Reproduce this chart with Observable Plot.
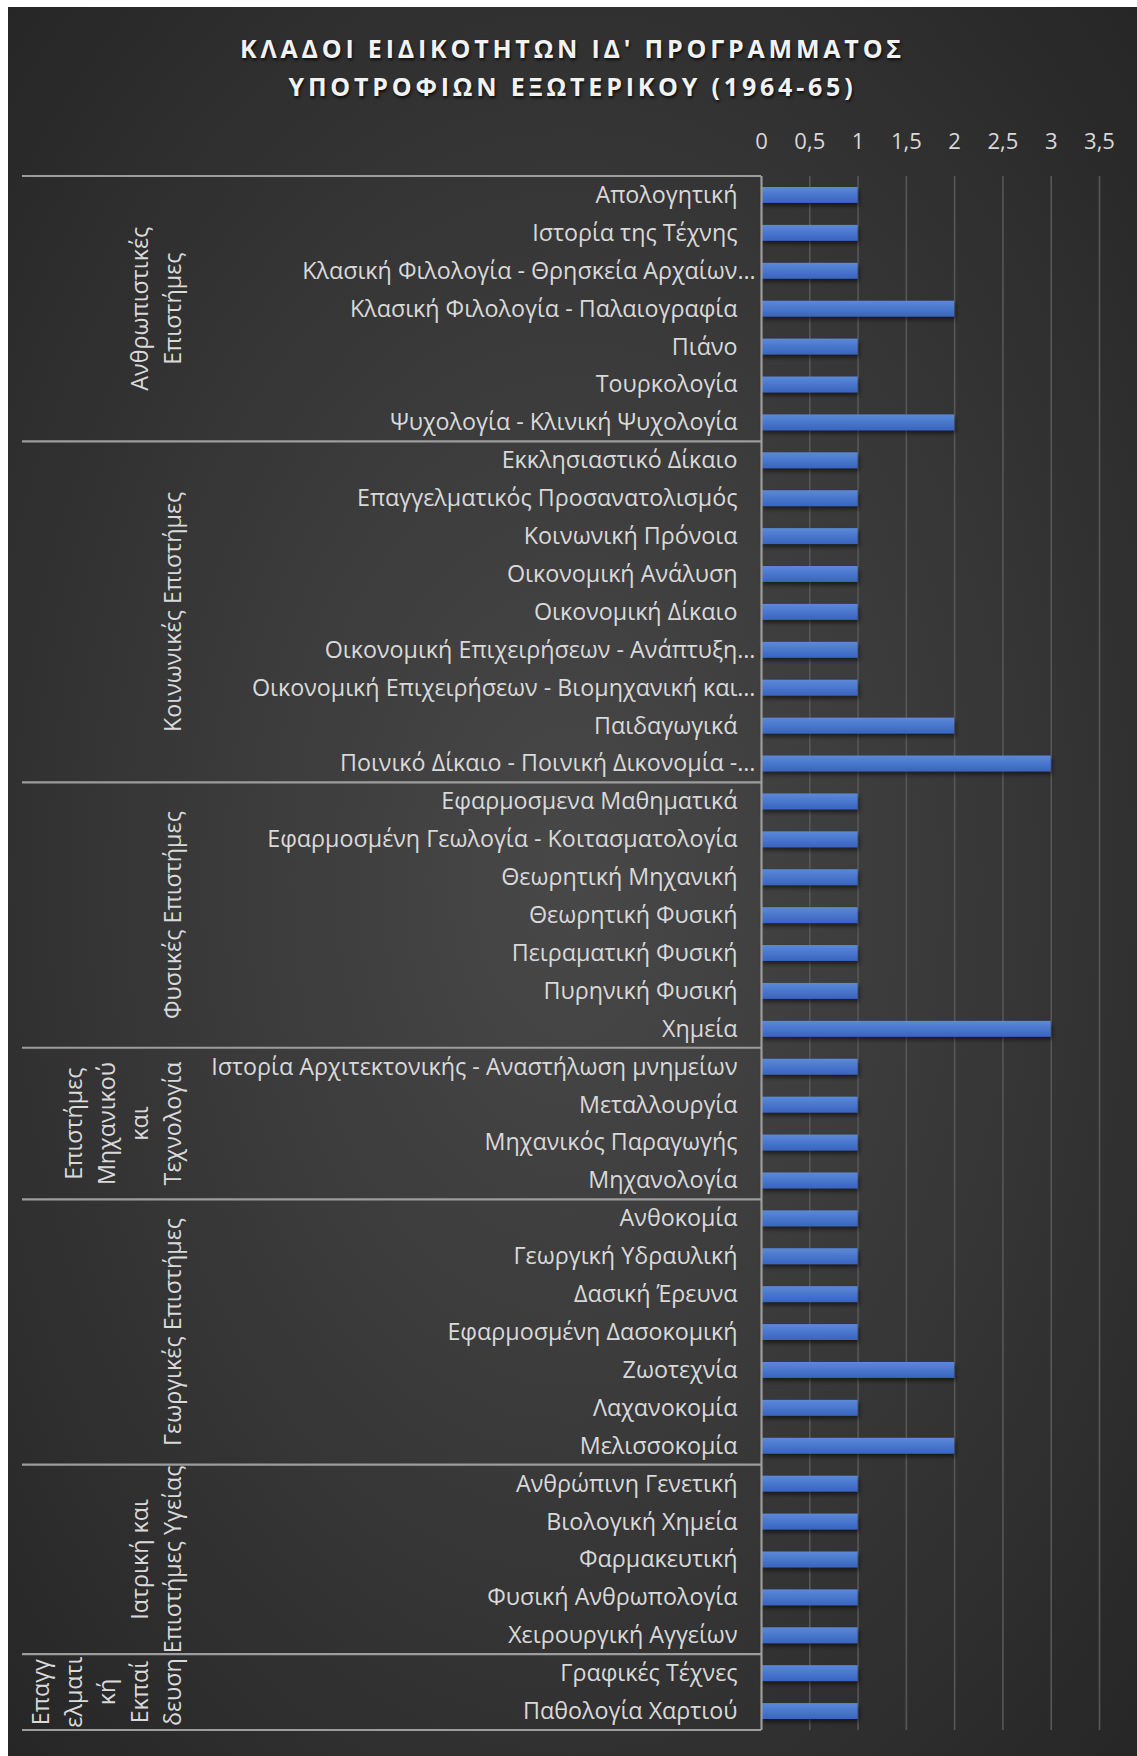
<!DOCTYPE html>
<html>
<head>
<meta charset="utf-8">
<script src="https://cdn.jsdelivr.net/npm/d3@7"></script>
<script src="https://cdn.jsdelivr.net/npm/@observablehq/plot@0.6"></script>
<style>
  html, body { margin: 0; padding: 0; background: #ffffff; }
  #card {
    position: absolute; left: 8px; top: 7px; width: 1129px; height: 1749px;
    background: radial-gradient(ellipse at 50% 50%, #484848 0%, #3a3a3a 45%, #262626 100%);
    font-family: "Open Sans", sans-serif; overflow: hidden;
  }
  #title {
    height: 103px; box-sizing: border-box; padding-top: 22px;
    text-align: center; color: #f2f2f2; font-weight: 700; font-size: 25px;
    letter-spacing: 3.8px; line-height: 38px;
    text-shadow: 1px 2px 3px rgba(0,0,0,0.75);
  }
  #chart svg { display: block; }
</style>
</head>
<body>
<div id="card">
  <div id="title">ΚΛΑΔΟΙ ΕΙΔΙΚΟΤΗΤΩΝ ΙΔ' ΠΡΟΓΡΑΜΜΑΤΟΣ<br>ΥΠΟΤΡΟΦΙΩΝ ΕΞΩΤΕΡΙΚΟΥ (1964-65)</div>
  <div id="chart"></div>
</div>
<script>
const categories = [
  "Απολογητική",
  "Ιστορία της Τέχνης",
  "Κλασική Φιλολογία - Θρησκεία Αρχαίων…",
  "Κλασική Φιλολογία - Παλαιογραφία",
  "Πιάνο",
  "Τουρκολογία",
  "Ψυχολογία - Κλινική Ψυχολογία",
  "Εκκλησιαστικό Δίκαιο",
  "Επαγγελματικός Προσανατολισμός",
  "Κοινωνική Πρόνοια",
  "Οικονομική Ανάλυση",
  "Οικονομική Δίκαιο",
  "Οικονομική Επιχειρήσεων - Ανάπτυξη…",
  "Οικονομική Επιχειρήσεων - Βιομηχανική και…",
  "Παιδαγωγικά",
  "Ποινικό Δίκαιο - Ποινική Δικονομία -…",
  "Εφαρμοσμενα Μαθηματικά",
  "Εφαρμοσμένη Γεωλογία - Κοιτασματολογία",
  "Θεωρητική Μηχανική",
  "Θεωρητική Φυσική",
  "Πειραματική Φυσική",
  "Πυρηνική Φυσική",
  "Χημεία",
  "Ιστορία Αρχιτεκτονικής - Αναστήλωση μνημείων",
  "Μεταλλουργία",
  "Μηχανικός Παραγωγής",
  "Μηχανολογία",
  "Ανθοκομία",
  "Γεωργική Υδραυλική",
  "Δασική Έρευνα",
  "Εφαρμοσμένη Δασοκομική",
  "Ζωοτεχνία",
  "Λαχανοκομία",
  "Μελισσοκομία",
  "Ανθρώπινη Γενετική",
  "Βιολογική Χημεία",
  "Φαρμακευτική",
  "Φυσική Ανθρωπολογία",
  "Χειρουργική Αγγείων",
  "Γραφικές Τέχνες",
  "Παθολογία Χαρτιού"
];
const values = [
  1, 1, 1, 2, 1, 1, 2,
  1, 1, 1, 1, 1, 1, 1, 2, 3,
  1, 1, 1, 1, 1, 1, 3,
  1, 1, 1, 1,
  1, 1, 1, 1, 2, 1, 2,
  1, 1, 1, 1, 1,
  1, 1
];
const groupNames = [
  "Ανθρωπιστικές Επιστήμες",
  "Κοινωνικές Επιστήμες",
  "Φυσικές Επιστήμες",
  "Επιστήμες Μηχανικού και Τεχνολογία",
  "Γεωργικές Επιστήμες",
  "Ιατρική και Επιστήμες Υγείας",
  "Επαγγελματική Εκπαίδευση"
];
const groupLabelLines = [
  ["Ανθρωπιστικές", "Επιστήμες"],
  ["Κοινωνικές Επιστήμες"],
  ["Φυσικές Επιστήμες"],
  ["Επιστήμες", "Μηχανικού", "και", "Τεχνολογία"],
  ["Γεωργικές Επιστήμες"],
  ["Ιατρική και", "Επιστήμες Υγείας"],
  ["Επαγγ", "ελματι", "κή", "Εκπαί", "δευση"]
];
const groupSizes = [7, 9, 7, 4, 7, 5, 2];
const xTicks = [0, 0.5, 1, 1.5, 2, 2.5, 3, 3.5];

// table built from the arrays
const rows = categories.map((c, i) => ({category: c, value: values[i]}));
const groups = [];
{
  let start = 0;
  groupSizes.forEach((n, g) => {
    groups.push({name: groupNames[g], lines: groupLabelLines[g], first: categories[start], last: categories[start + n - 1]});
    start += n;
  });
}
const truncated = categories.filter(c => c.endsWith("…"));
const plain = categories.filter(c => !c.endsWith("…"));

const lineColor = "#9d9d9d";
const textColor = "#d9d9d9";
const labelSize = 23.3;

// defs (gradient + shadow) for the bars
function defsMark() {
  const g = d3.create("svg:g");
  const defs = g.append("defs");
  const lg = defs.append("linearGradient").attr("id", "barGrad")
    .attr("x1", 0).attr("y1", 0).attr("x2", 0).attr("y2", 1);
  lg.append("stop").attr("offset", "0%").attr("stop-color", "#5c89d8");
  lg.append("stop").attr("offset", "100%").attr("stop-color", "#3864c0");
  const f = defs.append("filter").attr("id", "barShadow")
    .attr("x", "-5%").attr("y", "-40%").attr("width", "115%").attr("height", "200%");
  f.append("feDropShadow").attr("dx", 1.5).attr("dy", 3).attr("stdDeviation", 2)
    .attr("flood-color", "#000").attr("flood-opacity", 0.55);
  return g.node();
}

// group frame lines and rotated group labels, positioned via the y scale
function groupMark(index, scales, channels, dimensions) {
  const y = scales.y;
  const bw = typeof y.bandwidth === "function" ? y.bandwidth() : scales.scales.y.bandwidth;
  const x0 = scales.x(0);
  const left = 14;
  const lastLineX = 164;
  const lineGap = 33;
  const g = d3.create("svg:g");
  const bounds = [];
  groups.forEach((gr) => bounds.push(y(gr.first)));
  bounds.push(y(groups[groups.length - 1].last) + bw);
  g.selectAll("line.sep").data(bounds).join("line")
    .attr("x1", left).attr("x2", x0)
    .attr("y1", d => d).attr("y2", d => d)
    .attr("stroke", lineColor).attr("stroke-width", 2.2);
  groups.forEach((gr) => {
    const top = y(gr.first), bottom = y(gr.last) + bw;
    const cy = (top + bottom) / 2;
    const k = gr.lines.length;
    gr.lines.forEach((ln, i) => {
      const cx = lastLineX - (k - 1 - i) * lineGap;
      g.append("text")
        .attr("transform", `translate(${cx},${cy}) rotate(-90)`)
        .attr("text-anchor", "middle")
        .attr("dominant-baseline", "central")
        .attr("fill", textColor)
        .attr("font-size", labelSize)
        .text(ln);
    });
  });
  return g.node();
}

const chart = Plot.plot({
  width: 1129,
  height: 1646,
  marginTop: 66,
  marginBottom: 26,
  marginLeft: 753,
  marginRight: 38,
  x: {domain: [0, 3.5], label: null},
  y: {domain: categories, padding: 0, label: null},
  style: {background: "transparent", color: textColor, fontFamily: "'Open Sans', sans-serif", fontSize: "21px", overflow: "visible"},
  marks: [
    defsMark,
    Plot.ruleX(xTicks.filter(d => d > 0), {stroke: "#575757", strokeWidth: 1.6}),
    Plot.barX(rows, {x: "value", y: "category", fill: "url(#barGrad)", insetTop: 11, insetBottom: 11}),
    Plot.ruleX([0], {stroke: lineColor, strokeWidth: 2.2}),
    groupMark,
    Plot.axisX(xTicks, {anchor: "top", tickSize: 0, tickPadding: 28, fontSize: 22, fill: textColor, label: null,
      tickFormat: d => String(d).replace(".", ",")}),
    Plot.axisY(plain, {tickSize: 0, tickPadding: 24, fontSize: labelSize, fill: textColor, label: null}),
    Plot.axisY(truncated, {tickSize: 0, tickPadding: 24, dx: 18, fontSize: labelSize, fill: textColor, label: null})
  ]
});
document.getElementById("chart").appendChild(chart);
// apply shadow to bars
d3.select(chart).selectAll("rect").filter(function() { return this.getAttribute("fill") === "url(#barGrad)" || (this.parentNode && this.parentNode.getAttribute("fill") === "url(#barGrad)"); })
  .attr("filter", "url(#barShadow)");
</script>
</body>
</html>
